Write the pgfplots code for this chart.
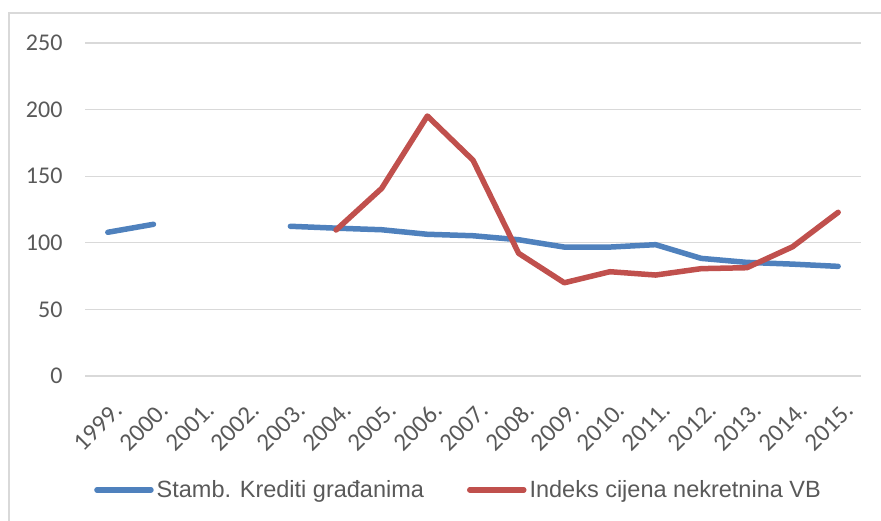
\documentclass[border=0pt]{standalone}
\usepackage{fontspec}
\setmainfont{Carlito}
\newfontfamily\legfont{Liberation Sans}
\usepackage{pgfplots}
\pgfplotsset{compat=1.18}
\definecolor{serblue}{HTML}{4F81BD}
\definecolor{serred}{HTML}{C0504D}
\definecolor{gridgray}{HTML}{D9D9D9}
\definecolor{txtgray}{HTML}{595959}
\begin{document}
\begin{tikzpicture}[x=1pt,y=1pt]
\useasboundingbox (0,0) rectangle (881,520);
\draw[gridgray, line width=1.6pt] (9,-5) -- (9,507) -- (890,507);
\begin{axis}[
  at={(85pt,144pt)}, anchor=south west,
  scale only axis, width=776pt, height=333pt,
  xmin=-0.5, xmax=16.5, ymin=0, ymax=250,
  axis line style={draw=none},
  ymajorgrids, grid style={gridgray, line width=1.3pt},
  ytick={0,50,...,250},
  xtick={0,...,16},
  xticklabels={1999.,2000.,2001.,2002.,2003.,2004.,2005.,2006.,2007.,2008.,2009.,2010.,2011.,2012.,2013.,2014.,2015.},
  major tick length=0pt,
  /pgf/number format/assume math mode=true,
  tick label style={font=\fontsize{24}{28}\selectfont, text=txtgray},
  yticklabel style={anchor=east, xshift=-19pt},
  xticklabel style={font=\fontsize{25}{28}\selectfont, xshift=5pt, yshift=-24pt, rotate=45, anchor=north east, inner sep=0pt},
  unbounded coords=jump,
  legend style={at={(0.482,-0.342)}, anchor=center, draw=none, fill=none,
    font=\legfont\fontsize{23.5}{28}\selectfont, text=txtgray, inner sep=0pt,
    nodes={inner sep=3pt},
    /tikz/every even column/.append style={column sep=40pt}},
  legend columns=2,
  legend image code/.code={\draw[#1] (0pt,0pt) -- (54pt,0pt);},
]
\addplot[serblue, line width=5.5pt, line join=round, line cap=round] coordinates {
(0,107.9) (1,113.9) (2,nan) (3,nan) (4,112.4) (5,111.0) (6,109.8) (7,106.4) (8,105.3)
(9,102.3) (10,96.8) (11,96.8) (12,98.6) (13,88.3) (14,85.3) (15,84.0) (16,82.3)};
\addlegendentry{Stamb. Krediti građanima}
\addplot[serred, line width=5.5pt, line join=round, line cap=round] coordinates {
(5,109.6) (6,140.9) (7,195.2) (8,162.0) (9,92.1) (10,70.0) (11,78.3) (12,75.8)
(13,80.6) (14,81.3) (15,97.0) (16,122.9)};
\addlegendentry{Indeks cijena nekretnina VB}
\end{axis}
\end{tikzpicture}
\end{document}
